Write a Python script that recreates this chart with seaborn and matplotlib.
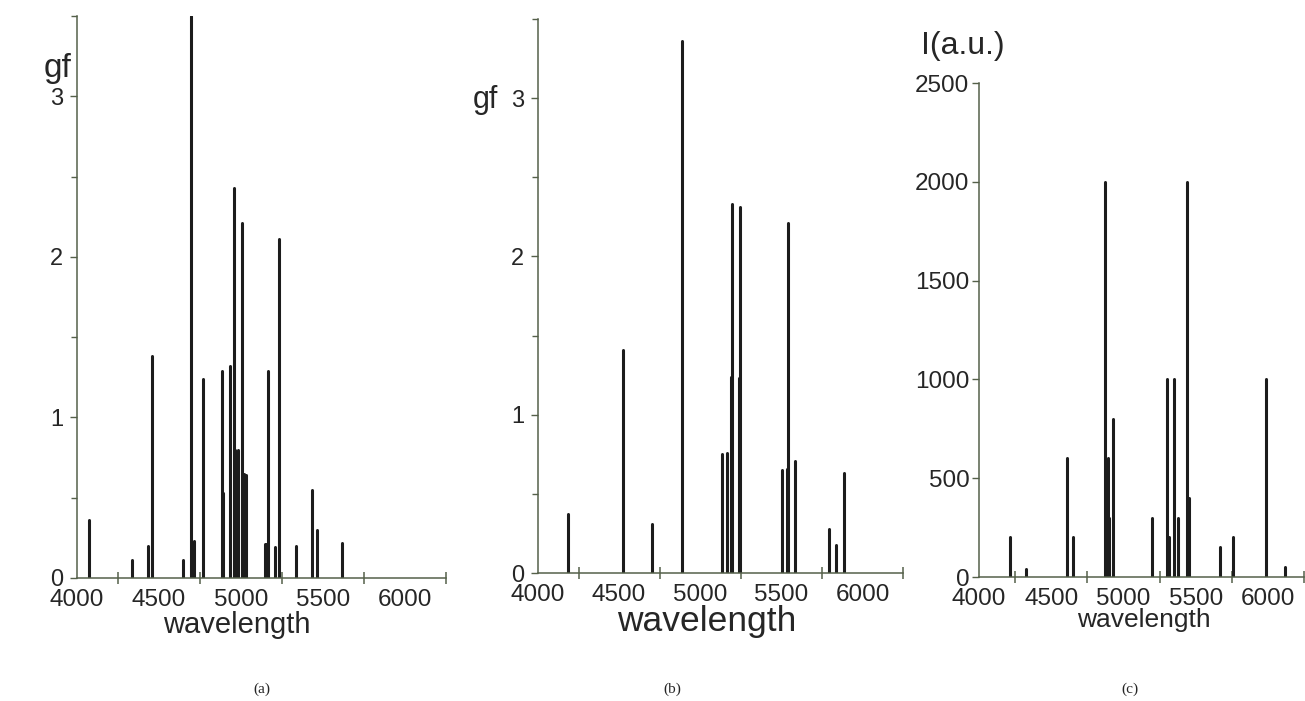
import numpy as np
import pandas as pd
import matplotlib
matplotlib.use("Agg")
import matplotlib.pyplot as plt
import seaborn as sns
from matplotlib.ticker import FixedLocator, NullFormatter

# ---- data ----
wl_a = [4075, 4333, 4431, 4457, 4644, 4697, 4713, 4770, 4884, 4888, 4933, 4957,
        4965, 4980, 5006, 5020, 5030, 5145, 5155, 5165, 5207, 5234, 5337, 5433,
        5463, 5616]
gf_a = [0.36, 0.11, 0.20, 1.38, 0.11, 3.50, 0.23, 1.24, 1.29, 0.53, 1.32, 2.43,
        0.80, 0.80, 2.21, 0.65, 0.64, 0.21, 0.21, 1.29, 0.19, 2.11, 0.20, 0.55,
        0.30, 0.22]

wl_b = [4187, 4525, 4701, 4888, 5134, 5163, 5190, 5198, 5236, 5248, 5505, 5538,
        5544, 5583, 5794, 5837, 5886]
gf_b = [0.37, 1.41, 0.31, 3.36, 0.75, 0.76, 1.24, 2.33, 1.23, 2.31, 0.65, 0.66,
        2.21, 0.71, 0.28, 0.18, 0.63]

wl_c = [4218, 4323, 4612, 4653, 4870, 4892, 4897, 4930, 5199, 5300, 5318, 5353,
        5378, 5443, 5452, 5667, 5756, 5990, 6118]
I_c = [200, 40, 600, 200, 2000, 600, 300, 800, 300, 1000, 200, 1000, 300, 2000,
       400, 150, 200, 1000, 50]

x_labels = ["4000", "4500", "5000", "5500", "6000"]
x_label_pos = [4000, 4500, 5000, 5500, 6000]
x_mark_pos = [4250, 4750, 5250, 5750, 6250]

W, H = 1305, 701
sns.set_theme(style="ticks")
plt.rcParams["font.family"] = ["Liberation Sans", "DejaVu Sans"]

fig = plt.figure(figsize=(W / 100, H / 100), dpi=100)
fig.patch.set_facecolor("white")


def px_axes(left, right, bottom, top):
    return fig.add_axes([left / W, 1 - bottom / H, (right - left) / W, (bottom - top) / H])


def sticks(ax, wl, vals):
    n = len(wl)
    df = pd.DataFrame({
        "wl": np.repeat(wl, 2),
        "val": np.ravel(np.column_stack([np.zeros(n), vals])),
        "line": np.repeat(np.arange(n), 2),
    })
    sns.lineplot(data=df, x="wl", y="val", units="line", estimator=None,
                 color="#1c1c1c", lw=2.2, ax=ax, legend=False, sort=False)


axis_col = "#55604a"
tc = "#262626"


def style(ax, ylim, yticks, yminor, ylab_size, ypad):
    ax.set_xlim(4000, 6250)
    ax.set_ylim(*ylim)
    sns.despine(ax=ax)
    ax.set_facecolor("white")
    for s in ["left", "bottom"]:
        ax.spines[s].set_color(axis_col)
        ax.spines[s].set_linewidth(1.1)
    ax.set_xticks(x_label_pos)
    ax.set_xticklabels(x_labels)
    ax.xaxis.set_minor_locator(FixedLocator(x_mark_pos))
    ax.xaxis.set_minor_formatter(NullFormatter())
    ax.tick_params(axis="x", which="major", length=0, pad=8, labelsize=17.5,
                   labelcolor=tc)
    ax.tick_params(axis="x", which="minor", length=8, direction="inout",
                   width=1.1, color=axis_col)
    ax.set_yticks(yticks)
    ax.set_yticklabels([str(t) for t in yticks])
    if yminor:
        ax.yaxis.set_minor_locator(FixedLocator(yminor))
    ax.tick_params(axis="y", which="major", length=5, width=1.0, color=axis_col,
                   labelsize=ylab_size, labelcolor=tc, pad=ypad)
    ax.tick_params(axis="y", which="minor", length=4, width=1.0, color=axis_col)
    ax.set_xlabel("")
    ax.set_ylabel("")
    ax.grid(False)


ax_a = px_axes(77, 446, 578, 16)
sticks(ax_a, wl_a, gf_a)
style(ax_a, (0, 3.5), [0, 1, 2, 3], [0.5, 1.5, 2.5, 3.5], 17, 5)

ax_b = px_axes(538, 903, 573, 19)
sticks(ax_b, wl_b, gf_b)
style(ax_b, (0, 3.5), [0, 1, 2, 3], [0.5, 1.5, 2.5, 3.5], 17, 5)

ax_c = px_axes(979, 1304, 577, 83)
sticks(ax_c, wl_c, I_c)
style(ax_c, (0, 2500), [0, 500, 1000, 1500, 2000, 2500], None, 17.5, 2)

fig.text(58 / W, 1 - 68 / H, "gf", fontsize=24, color=tc, ha="center", va="center")
fig.text(485 / W, 1 - 100 / H, "gf", fontsize=22, color=tc, ha="center", va="center")
fig.text(963 / W, 1 - 46 / H, "I(a.u.)", fontsize=23, color=tc, ha="center", va="center")

fig.text(237 / W, 1 - 625 / H, "wavelength", fontsize=21, color=tc, ha="center", va="center")
fig.text(707 / W, 1 - 621 / H, "wavelength", fontsize=25.5, color=tc, ha="center", va="center")
fig.text(1144 / W, 1 - 620 / H, "wavelength", fontsize=19, color=tc, ha="center", va="center")

for x, lab in [(262, "(a)"), (672, "(b)"), (1130, "(c)")]:
    fig.text(x / W, 1 - 689 / H, lab, fontsize=11, color=tc, ha="center", va="center",
             family=["Liberation Serif", "DejaVu Serif"])

fig.savefig("out.png", dpi=100, facecolor="white")
